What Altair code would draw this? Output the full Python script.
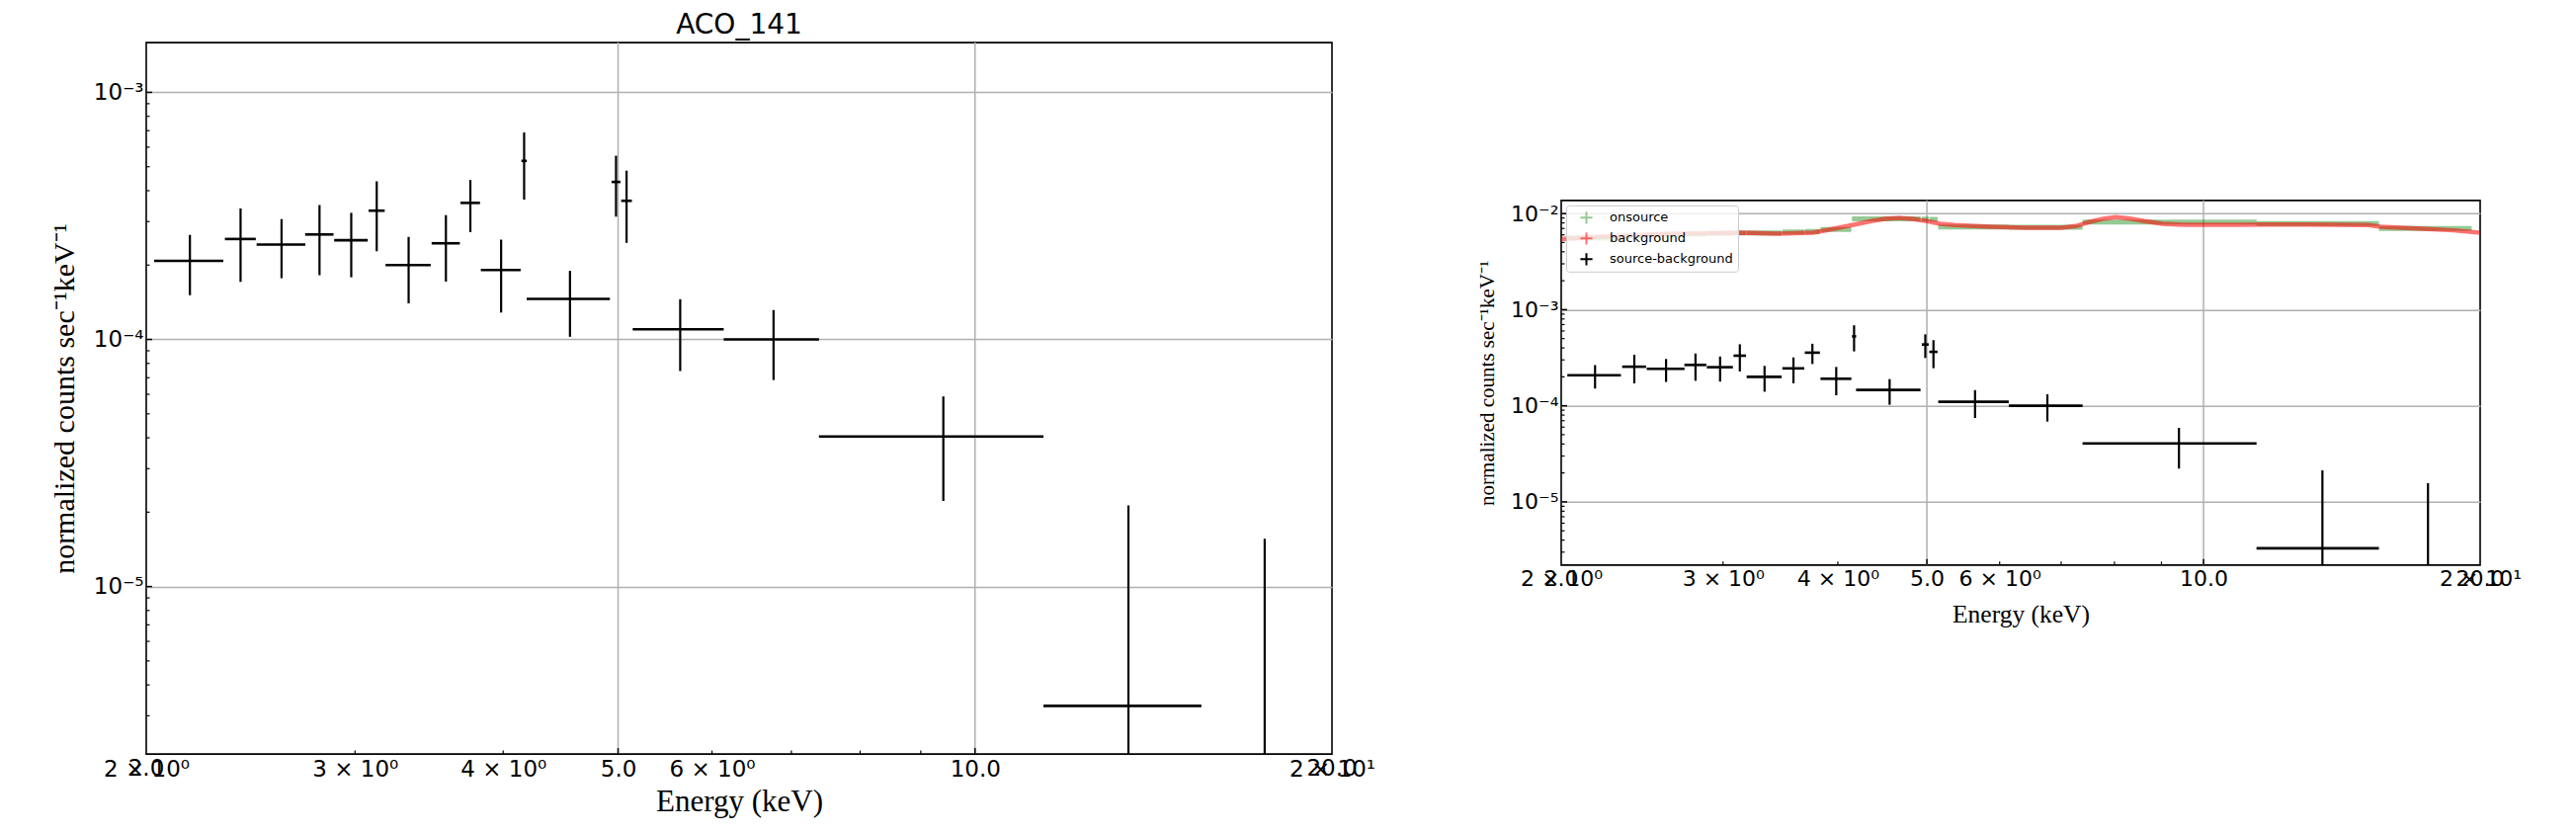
import altair as alt
import pandas as pd

# ---------------- data ----------------
TITLE = "ACO_141"
X_TITLE = "Energy (keV)"
Y_TITLE = "normalized counts sec⁻¹keV⁻¹"

# source - background spectrum (bin centre, half width, rate, 1-sigma error)
src_energy = [2.177, 2.402, 2.601, 2.800, 2.978, 3.129, 3.329, 3.579, 3.753, 3.984,
              4.166, 4.554, 4.980, 5.083, 5.641, 6.762, 9.403, 13.47, 17.55]
src_halfwidth = [0.146, 0.072, 0.123, 0.077, 0.097, 0.049, 0.146, 0.098, 0.071, 0.154,
                 0.022, 0.367, 0.043, 0.053, 0.497, 0.624, 2.018, 2.050, 2.030]
src_rate = [2.08e-4, 2.55e-4, 2.42e-4, 2.66e-4, 2.52e-4, 3.32e-4, 2.00e-4, 2.45e-4, 3.57e-4, 1.91e-4,
            5.28e-4, 1.46e-4, 4.34e-4, 3.64e-4, 1.10e-4, 1.00e-4, 4.05e-5, 3.29e-6, 1.0e-6]
src_err = [0.57e-4, 0.84e-4, 0.65e-4, 0.84e-4, 0.735e-4, 1.045e-4, 0.60e-4, 0.735e-4, 0.85e-4, 0.625e-4,
           1.60e-4, 0.435e-4, 1.20e-4, 1.18e-4, 0.355e-4, 0.315e-4, 1.83e-5, 1.80e-5, 1.46e-5]

# on-source spectrum (same bins)
on_rate = [5.6e-3, 5.8e-3, 6.0e-3, 6.1e-3, 6.2e-3, 6.3e-3, 6.3e-3, 6.45e-3, 6.5e-3, 6.85e-3,
           8.8e-3, 8.8e-3, 8.75e-3, 8.7e-3, 7.25e-3, 7.2e-3, 8.15e-3, 7.85e-3, 7.0e-3]

# background spectrum
bkg_energy = [2.0, 2.206, 2.635, 3.148, 3.44, 3.76, 3.90, 4.11, 4.35, 4.50, 4.66, 4.82, 5.0,
              5.17, 5.36, 5.87, 6.41, 7.0, 7.26, 7.52, 7.80, 8.03, 8.32, 8.62, 9.03, 9.52,
              10.91, 13.0, 15.1, 15.6, 17.1, 18.7, 20.0]
bkg_rate = [5.41e-3, 5.76e-3, 6.18e-3, 6.33e-3, 6.18e-3, 6.33e-3, 6.74e-3, 7.47e-3, 8.34e-3,
            8.81e-3, 9.03e-3, 8.81e-3, 8.34e-3, 7.83e-3, 7.59e-3, 7.30e-3, 7.12e-3, 7.12e-3,
            7.41e-3, 8.21e-3, 8.88e-3, 9.17e-3, 8.88e-3, 8.34e-3, 7.83e-3, 7.65e-3, 7.65e-3,
            7.71e-3, 7.59e-3, 7.30e-3, 7.01e-3, 6.69e-3, 6.33e-3]

series_names = ["onsource", "background", "source-background"]
series_colors = ["rgba(0,128,0,0.42)", "rgba(255,0,0,0.55)", "black"]

# axes / ticks
x_domain = [2.0, 20.0]
x_label_values = [2, 3, 4, 5, 6, 10, 20]
x_labels = ["2 × 10⁰", "3 × 10⁰", "4 × 10⁰", "5.0", "6 × 10⁰", "10.0", "2 × 10¹"]
x_overlay_values = [2, 20]
x_overlay_labels = ["2.0", "20.0"]
x_grid_values = [5, 10]
x_minor_ticks = [3, 4, 6, 7, 8, 9]

left_y_domain = [2.1e-6, 1.59e-3]
right_y_domain = [2.2e-6, 1.37e-2]
y_major_values = [1e-5, 1e-4, 1e-3, 1e-2]
y_major_labels = ["10⁻⁵", "10⁻⁴", "10⁻³", "10⁻²"]
y_minor_values = [3e-6, 4e-6, 5e-6, 6e-6, 7e-6, 8e-6, 9e-6,
                  2e-5, 3e-5, 4e-5, 5e-5, 6e-5, 7e-5, 8e-5, 9e-5,
                  2e-4, 3e-4, 4e-4, 5e-4, 6e-4, 7e-4, 8e-4, 9e-4,
                  2e-3, 3e-3, 4e-3, 5e-3, 6e-3, 7e-3, 8e-3, 9e-3]


def label_expr(values, labels):
    parts = [f"datum.value == {v} ? '{l}'" for v, l in zip(values, labels)]
    return " : ".join(parts) + " : ''"


src = pd.DataFrame({
    "e": src_energy,
    "lo": [e - h for e, h in zip(src_energy, src_halfwidth)],
    "hi": [e + h for e, h in zip(src_energy, src_halfwidth)],
    "v": src_rate,
    "vlo": [max(r - s, 1e-9) for r, s in zip(src_rate, src_err)],
    "vhi": [r + s for r, s in zip(src_rate, src_err)],
    "series": "source-background",
})
on = pd.DataFrame({"lo": src["lo"], "hi": src["hi"], "v": on_rate, "series": "onsource"})
bkg = pd.DataFrame({"e": bkg_energy, "v": bkg_rate, "series": "background"})
overlay = pd.DataFrame({"e": x_overlay_values, "t": x_overlay_labels})

GRID = "#b0b0b0"
LABEL_PAD = 4


def panel(w, h, ydom, lab_fs, xt_fs, yt_fs, xt_pad, yt_pad, ylab_pad, with_bkg):
    xs = alt.Scale(type="log", domain=x_domain, nice=False)
    ys = alt.Scale(type="log", domain=ydom, nice=False)
    xa = alt.Axis(values=x_label_values, labelExpr=label_expr(x_label_values, x_labels),
                  labelFont="DejaVu Sans", labelFontSize=lab_fs, labelColor="black",
                  labelFlush=False, labelOverlap=False, labelBound=False,
                  grid=False, ticks=False, tickSize=0, domain=False, labelPadding=LABEL_PAD,
                  title=X_TITLE, titleFont="Liberation Serif", titleFontSize=xt_fs,
                  titleFontWeight="normal", titleColor="black", titlePadding=xt_pad)
    ymaj = [v for v in y_major_values if ydom[0] <= v <= ydom[1]]
    ymin = [v for v in y_minor_values if ydom[0] <= v <= ydom[1]]
    ya = alt.Axis(values=ymaj, labelExpr=label_expr(y_major_values, y_major_labels),
                  grid=True, gridColor=GRID, gridWidth=1.5, ticks=False, tickSize=0,
                  domain=False, labelFont="DejaVu Sans", labelFontSize=lab_fs,
                  labelColor="black", labelPadding=ylab_pad, labelOverlap=False,
                  title=Y_TITLE, titleFont="Liberation Serif", titleFontSize=yt_fs,
                  titleFontWeight="normal", titleColor="black", titlePadding=yt_pad)

    def X(f):
        return alt.X(f, scale=xs, axis=xa)

    def Y(f):
        return alt.Y(f, scale=ys, axis=ya)

    layers = []
    # vertical grid lines (only at the major energies)
    layers.append(alt.Chart(pd.DataFrame({"e": x_grid_values})).mark_rule(
        color=GRID, strokeWidth=1.5).encode(x=X("e:Q")))
    # inward ticks
    layers.append(alt.Chart(pd.DataFrame({"e": x_grid_values})).mark_rule(
        color="black", strokeWidth=1.5).encode(
        x=X("e:Q"), y=alt.value(h), y2=alt.value(h - 6)))
    layers.append(alt.Chart(pd.DataFrame({"e": x_minor_ticks})).mark_rule(
        color="black", strokeWidth=1.2).encode(
        x=X("e:Q"), y=alt.value(h), y2=alt.value(h - 3.5)))
    layers.append(alt.Chart(pd.DataFrame({"v": ymaj})).mark_rule(
        color="black", strokeWidth=1.5).encode(
        y=Y("v:Q"), x=alt.value(0), x2=alt.value(6)))
    layers.append(alt.Chart(pd.DataFrame({"v": ymin})).mark_rule(
        color="black", strokeWidth=1.2).encode(
        y=Y("v:Q"), x=alt.value(0), x2=alt.value(3.5)))
    # overlapping major-formatter labels "2.0" and "20.0"
    layers.append(alt.Chart(overlay).mark_text(
        font="DejaVu Sans", fontSize=lab_fs, baseline="top", align="center", color="black").encode(
        x=X("e:Q"), y=alt.value(h + LABEL_PAD), text="t:N"))

    if with_bkg:
        cs = alt.Scale(domain=series_names, range=series_colors)
        legend = alt.Legend(title=None, orient="top-left", offset=5,
                            fillColor="rgba(255,255,255,0.8)", strokeColor="#cccccc",
                            cornerRadius=3, padding=5, labelFont="DejaVu Sans",
                            labelFontSize=13, labelColor="black",
                            symbolType="M-1,0L1,0M0,-1L0,1", symbolSize=150,
                            symbolStrokeWidth=2, symbolOffset=8, rowPadding=6,
                            clipHeight=15, labelOffset=16)
        col = alt.Color("series:N", scale=cs, legend=legend)
        layers.append(alt.Chart(on).mark_rule(strokeWidth=5, clip=True).encode(
            x=X("lo:Q"), x2="hi:Q", y=Y("v:Q"), color=col))
        layers.append(alt.Chart(bkg).mark_line(strokeWidth=4.5, clip=True).encode(
            x=X("e:Q"), y=Y("v:Q"), color=col))
    else:
        col = alt.value("black")

    layers.append(alt.Chart(src).mark_rule(strokeWidth=2.6, clip=True).encode(
        x=X("lo:Q"), x2="hi:Q", y=Y("v:Q"), color=col))
    layers.append(alt.Chart(src).mark_rule(strokeWidth=2.2, clip=True).encode(
        x=X("e:Q"), y=Y("vlo:Q"), y2="vhi:Q", color=col))

    return alt.layer(*layers).properties(width=w, height=h)


left = panel(1200, 720, left_y_domain, 23, 31, 30, 6, 13.5, 3, False).properties(
    title=alt.TitleParams(TITLE, font="DejaVu Sans", fontSize=28, fontWeight="normal",
                          color="black", offset=2))
# an empty bottom title lifts the centred right panel to its place in the row
right = panel(930, 369, right_y_domain, 22, 25.5, 21, 13, 13.5, 3, True).properties(
    title=alt.TitleParams(" ", orient="bottom", fontSize=1, offset=30))

chart = alt.hconcat(left, right, spacing=100, center=True).properties(
    padding={"left": 42, "top": 3, "right": 5, "bottom": 5}
).resolve_scale(color="independent").resolve_legend(color="independent").configure_view(
    stroke="black", strokeWidth=1.6)

chart.save("out.html", embed_options={"renderer": "svg", "actions": False})
